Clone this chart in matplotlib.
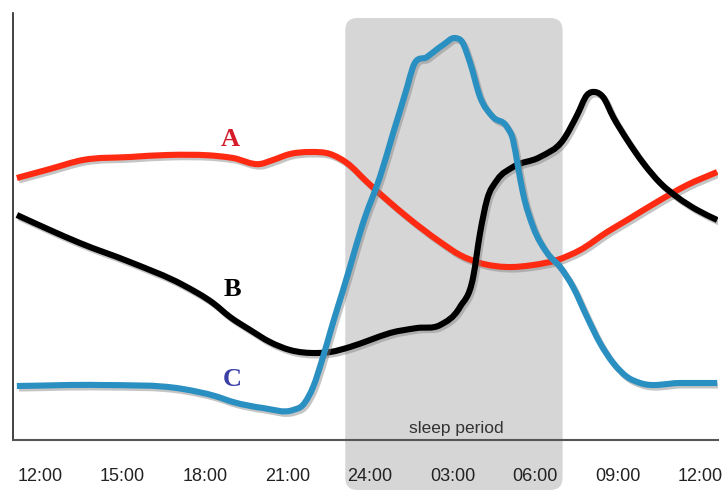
import matplotlib
matplotlib.use("Agg")
import numpy as np
import matplotlib.pyplot as plt
import matplotlib.patheffects as pe
from matplotlib.patches import FancyBboxPatch, PathPatch
from matplotlib.path import Path

# hours since midnight of day 1 (36 = noon next day) and relative level
a_hours = [11.16, 12.36, 13.56, 15.27, 16.62, 18.44, 19.02, 20.0, 20.47, 21.09, 21.82,
           22.55, 23.16, 23.89, 24.62, 25.35, 26.55, 27.27, 28.0, 28.98, 29.93, 30.8,
           31.64, 32.62, 33.35, 34.55, 35.53, 36.62]
a_level = [262, 271, 280, 283, 285, 284, 282, 276, 280, 286, 288,
           286, 277, 258, 240, 223, 198, 185, 177, 173, 175, 180,
           190, 208, 220, 240, 255, 268]

b_hours = [11.16, 12.36, 13.45, 15.27, 17.2, 18.29, 18.91, 19.64, 20.36, 21.09, 22.07,
           22.55, 23.27, 24.0, 24.73, 25.71, 26.55, 27.27, 27.75, 28.0, 28.25, 28.62,
           29.2, 30.18, 31.02, 31.53, 31.89, 32.18, 32.47, 32.84, 33.35, 33.93, 34.55,
           35.16, 35.89, 36.62]
b_level = [225, 210, 197, 178, 155, 137, 123, 110, 98, 90, 87,
           88, 93, 100, 107, 112, 115, 133, 163, 207, 240, 260,
           273, 283, 300, 325, 345, 348, 343, 323, 300, 277, 257,
           243, 230, 220]

c_hours = [11.16, 14.18, 17.2, 18.36, 19.02, 20.11, 21.2, 21.56, 21.93, 22.29, 22.65,
           23.02, 23.82, 24.36, 24.84, 25.35, 25.56, 26.07, 26.65, 27.09, 27.35,
           27.64, 28.0, 28.47, 28.98, 29.2, 29.38, 29.56, 29.93, 30.44, 30.91, 31.38,
           31.89, 32.36, 32.84, 33.35, 33.82, 35.27, 36.62]
c_level = [54, 55, 51, 44, 38, 32, 30, 35, 53, 83, 117,
           150, 223, 263, 307, 353, 373, 383, 395, 402, 398,
           377, 343, 323, 313, 300, 273, 247, 213, 187, 173, 153,
           123, 97, 77, 63, 57, 57, 57]

tick_hours = [12, 15, 18, 21, 24, 27, 30, 33, 36]
tick_labels = ["12:00", "15:00", "18:00", "21:00", "24:00", "03:00", "06:00", "09:00", "12:00"]

sleep_start, sleep_end = 23.1, 31.0


def smooth_path(xs, ys):
    # cubic bezier through the points (hermite, slopes from neighbouring secants)
    x = np.asarray(xs, float)
    y = np.asarray(ys, float)
    h = np.diff(x)
    d = np.diff(y) / h
    m = np.empty_like(x)
    m[0], m[-1] = d[0], d[-1]
    m[1:-1] = (d[:-1] * h[1:] + d[1:] * h[:-1]) / (h[:-1] + h[1:])
    verts = [(x[0], y[0])]
    codes = [Path.MOVETO]
    for i in range(len(h)):
        verts += [(x[i] + h[i] / 3, y[i] + m[i] * h[i] / 3),
                  (x[i + 1] - h[i] / 3, y[i + 1] - m[i + 1] * h[i] / 3),
                  (x[i + 1], y[i + 1])]
        codes += [Path.CURVE4] * 3
    return Path(verts, codes)


fig = plt.figure(figsize=(7.23, 4.93), dpi=100)
ax = fig.add_axes([13 / 723, 53 / 493, 705 / 723, 427 / 493])
ax.set_xlim(11.02, 36.65)
ax.set_ylim(0, 427)

# grey sleep box, runs down past the axis behind the tick labels
box = FancyBboxPatch((sleep_start, -50), sleep_end - sleep_start, 472,
                     boxstyle="round,pad=0,rounding_size=0.45",
                     mutation_aspect=27.5, facecolor="#d6d6d6", edgecolor="none",
                     clip_on=False, zorder=0)
ax.add_patch(box)

shadow = [pe.SimpleLineShadow(offset=(1.5, -1.8), shadow_color="gray", alpha=0.45), pe.Normal()]
for hrs, lvl, col in [(a_hours, a_level, "#ff2a12"), (b_hours, b_level, "#000000"),
                      (c_hours, c_level, "#2a8fc1")]:
    ax.add_patch(PathPatch(smooth_path(hrs, lvl), fill=False, edgecolor=col, lw=4.4,
                           joinstyle="round", capstyle="butt", path_effects=shadow, zorder=2))

lab = dict(fontsize=19, fontweight="bold", family="Liberation Serif", ha="center", va="center")
ax.text(18.92, 300, "A", color="#d51b2a", **lab)
ax.text(18.98, 150, "B", color="#000000", **lab)
ax.text(18.98, 60, "C", color="#3b3fa8", **lab)
ax.text(27.15, 12, "sleep period", fontsize=12.5, family="Liberation Sans", color="#333333",
        ha="center", va="center")

ax.spines["top"].set_visible(False)
ax.spines["right"].set_visible(False)
ax.spines["left"].set_color("#222222")
ax.spines["bottom"].set_color("#555555")
ax.spines["left"].set_linewidth(1.2)
ax.spines["bottom"].set_linewidth(1.5)
ax.set_yticks([])
ax.set_xticks(tick_hours)
ax.set_xticklabels(tick_labels, fontsize=13, family="Liberation Sans", color="#222222")
ax.tick_params(axis="x", length=0, pad=20)

fig.savefig("out.png", dpi=100)
